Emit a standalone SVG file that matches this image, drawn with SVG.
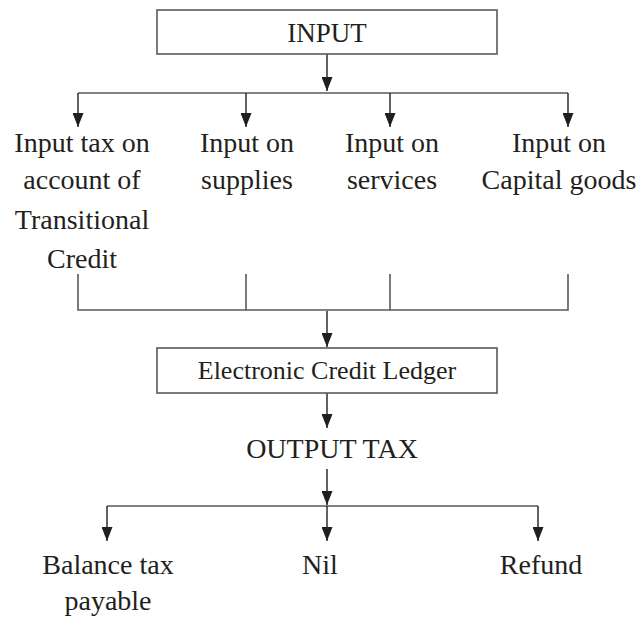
<svg xmlns="http://www.w3.org/2000/svg" width="641" height="620" viewBox="0 0 641 620">
<style>
  .box { fill: #ffffff; stroke: #58595b; stroke-width: 1.6; }
  .ln { fill: none; stroke: #58595b; stroke-width: 1.6; }
  .ar { fill: none; stroke: #231f20; stroke-width: 1.4; marker-end: url(#ah); }
  text { font-family: "Liberation Serif", "Times New Roman", serif; fill: #231f20; text-anchor: middle; }
  .t { font-size: 28px; }
  .b { font-size: 27px; }
  .e { font-size: 26px; }
</style>
<defs>
  <marker id="ah" viewBox="0 0 14 11" refX="14" refY="5.5" markerWidth="14" markerHeight="11" markerUnits="userSpaceOnUse" orient="auto">
    <path d="M0,0 L14,5.5 L0,11 Z" fill="#231f20"/>
  </marker>
</defs>
<rect x="0" y="0" width="641" height="620" fill="#ffffff"/>

<g id="connectors">
  <line class="ar" x1="327" y1="54" x2="327" y2="91"/>
  <path class="ln" d="M78,93 H568"/>
  <line class="ar" x1="78" y1="93" x2="78" y2="127"/>
  <line class="ar" x1="246" y1="93" x2="246" y2="127"/>
  <line class="ar" x1="390" y1="93" x2="390" y2="127"/>
  <line class="ar" x1="568" y1="93" x2="568" y2="127"/>

  <path class="ln" d="M78,274 V310 H568 V274 M246,274 V310 M390,274 V310"/>
  <line class="ar" x1="327" y1="311" x2="327" y2="347"/>

  <line class="ar" x1="327" y1="393" x2="327" y2="428"/>

  <line class="ar" x1="327" y1="469" x2="327" y2="505"/>
  <path class="ln" d="M107,506 H538"/>
  <line class="ar" x1="327" y1="506" x2="327" y2="541"/>
  <line class="ar" x1="107" y1="506" x2="107" y2="541"/>
  <line class="ar" x1="538" y1="506" x2="538" y2="541"/>
</g>

<g id="input">
  <rect class="box" x="157" y="10" width="340" height="44"/>
  <text class="b" x="327" y="42">INPUT</text>
</g>
<g id="transitional">
  <text class="t" x="82" y="152">Input tax on</text>
  <text class="t" x="82" y="189">account of</text>
  <text class="t" x="82" y="229">Transitional</text>
  <text class="t" x="82" y="268">Credit</text>
</g>
<g id="supplies">
  <text class="t" x="247" y="152">Input on</text>
  <text class="t" x="247" y="189">supplies</text>
</g>
<g id="services">
  <text class="t" x="392" y="152">Input on</text>
  <text class="t" x="392" y="189">services</text>
</g>
<g id="capital">
  <text class="t" x="559" y="152">Input on</text>
  <text class="t" x="559" y="189">Capital goods</text>
</g>
<g id="ledger">
  <rect class="box" x="157" y="348" width="340" height="45"/>
  <text class="e" x="327" y="379">Electronic Credit Ledger</text>
</g>
<g id="output">
  <text class="t" x="332" y="458">OUTPUT TAX</text>
</g>
<g id="balance">
  <text class="t" x="108" y="574">Balance tax</text>
  <text class="t" x="108" y="610">payable</text>
</g>
<g id="nil">
  <text class="t" x="320" y="574">Nil</text>
</g>
<g id="refund">
  <text class="t" x="541" y="574">Refund</text>
</g>
</svg>
